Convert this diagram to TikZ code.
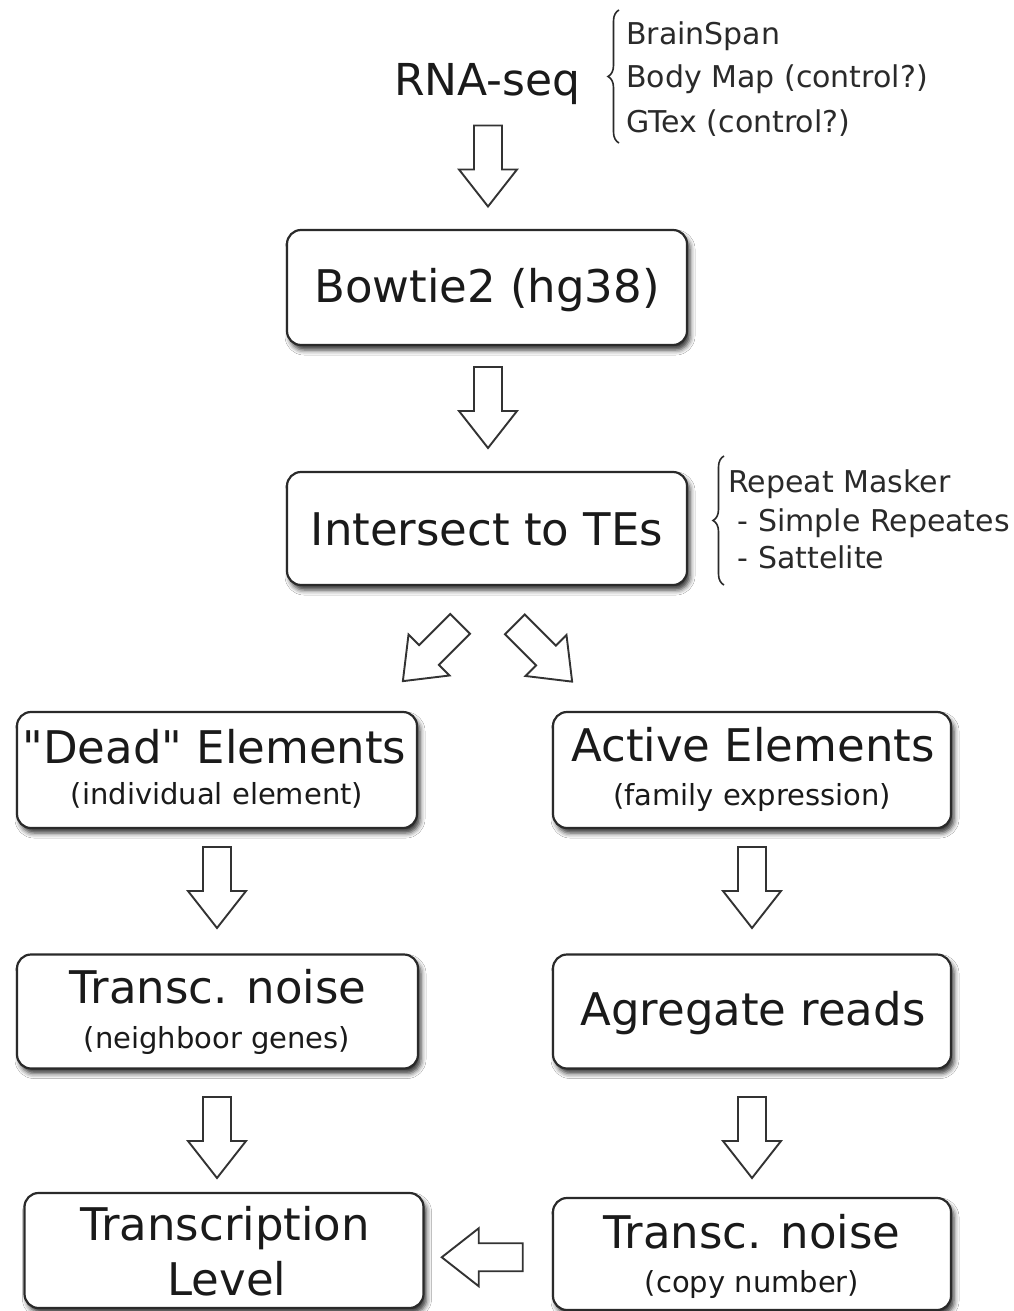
\documentclass[tikz,border=0pt]{standalone}
\usepackage{fontspec}
\setmainfont{DejaVu Sans}
% same face without TeX quote mapping, for straight double quotes
\newfontfamily\plainface{DejaVu Sans}
\usetikzlibrary{shadows.blur,decorations.pathreplacing,calc}

\definecolor{boxline}{HTML}{2A2A2A}
\definecolor{arrline}{HTML}{333333}
\definecolor{txt}{HTML}{1A1A1A}
\definecolor{side}{HTML}{2A2A2A}

\tikzset{
  stage/.style={draw=boxline, line width=2.2pt, rounded corners=14pt, fill=white,
    inner sep=0pt,
    blur shadow={shadow xshift=3pt, shadow yshift=-5pt, shadow blur radius=5pt, shadow opacity=80}},
  bigtxt/.style={font=\fontsize{45}{54}\selectfont, text=txt, anchor=base, inner sep=0pt},
  subtxt/.style={font=\fontsize{29}{35}\selectfont, text=txt, anchor=base, inner sep=0pt},
  sidetxt/.style={font=\fontsize{30}{36}\selectfont, text=side, anchor=base west, inner sep=0pt},
  hollow/.style={draw=arrline, line width=1.9pt, fill=white, line join=miter},
  bracket/.style={decorate, decoration={brace, amplitude=11pt}, draw=side, line width=1.6pt},
  pics/blockarrow/.style={code={
    \draw[hollow] (-40.5,-14) -- (3.5,-14) -- (3.5,-29) -- (40.5,0)
      -- (3.5,29) -- (3.5,14) -- (-40.5,14) -- cycle;}}
}

\begin{document}
\begin{tikzpicture}[x=1pt, y=-1pt]
  \useasboundingbox (0,0) rectangle (1014,1311);
  \fill[white] (0,0) rectangle (1014,1311);

  % input data and its sources
  \node[bigtxt, font=\fontsize{44}{53}\selectfont] (rna) at (487.5,96) {RNA-seq};
  \draw[bracket] (619,143) -- (619,10);
  \node[sidetxt] (src1) at (626,45) {BrainSpan};
  \node[sidetxt] (src2) at (626,88) {Body Map (control?)};
  \node[sidetxt] (src3) at (626,132) {GTex (control?)};

  % pipeline stages
  \node[stage, minimum width=400pt, minimum height=115pt] (bowtie) at (487,287.5) {};
  \node[bigtxt] (bowtieT) at (487,302) {Bowtie2 (hg38)};

  \node[stage, minimum width=400pt, minimum height=113pt] (inter) at (487,528.5) {};
  \node[bigtxt] (interT) at (487,545) {Intersect to TEs};

  \draw[bracket] (724,585) -- (724,456);
  \node[sidetxt] (rm1) at (728,492) {Repeat Masker};
  \node[sidetxt] (rm2) at (728,531) {\ - Simple Repeates};
  \node[sidetxt] (rm3) at (728,568) {\ - Sattelite};

  % left branch
  \node[stage, minimum width=400pt, minimum height=116pt] (dead) at (217,770) {};
  \node[bigtxt] (deadT) at (214.5,763) {\plainface "Dead" Elements};
  \node[subtxt] (deadS) at (217,804) {(individual element)};

  \node[stage, minimum width=401pt, minimum height=114pt] (noiseL) at (217.5,1011.5) {};
  \node[bigtxt] (noiseLT) at (218,1003) {Transc. noise};
  \node[subtxt] (noiseLS) at (217,1048) {(neighboor genes)};

  \node[stage, minimum width=399pt, minimum height=115pt] (level) at (224,1250.5) {};
  \node[bigtxt] (levelT1) at (225,1240) {Transcription};
  \node[bigtxt] (levelT2) at (227,1295) {Level};

  % right branch
  \node[stage, minimum width=398pt, minimum height=116pt] (active) at (752,770) {};
  \node[bigtxt] (activeT) at (753,761) {Active Elements};
  \node[subtxt] (activeS) at (752,805) {(family expression)};

  \node[stage, minimum width=398pt, minimum height=114pt] (aggr) at (752,1011.5) {};
  \node[bigtxt] (aggrT) at (753,1025) {Agregate reads};

  \node[stage, minimum width=398pt, minimum height=112pt] (noiseR) at (752,1254) {};
  \node[bigtxt] (noiseRT) at (752,1248) {Transc. noise};
  \node[subtxt] (noiseRS) at (752,1292) {(copy number)};

  % hollow block arrows between the stages
  \pic[rotate=-90] (a1) at (488,166) {blockarrow};
  \pic[rotate=-90] (a2) at ($(bowtie.south)!0.5!(inter.north)+(1,-1)$) {blockarrow};
  \pic[rotate=-135] (a3) at (431.5,652.5) {blockarrow};
  \pic[rotate=-45] (a4) at (543.5,653) {blockarrow};
  \pic[rotate=-90] (a5) at (217,887.5) {blockarrow};
  \pic[rotate=-90] (a6) at (217,1137.5) {blockarrow};
  \pic[rotate=-90] (a7) at (752,887.5) {blockarrow};
  \pic[rotate=-90] (a8) at (752,1137.5) {blockarrow};
  \pic[rotate=180] (a9) at ($(noiseR.west)!0.5!(level.east)+(-6,5)$) {blockarrow};
\end{tikzpicture}
\end{document}
